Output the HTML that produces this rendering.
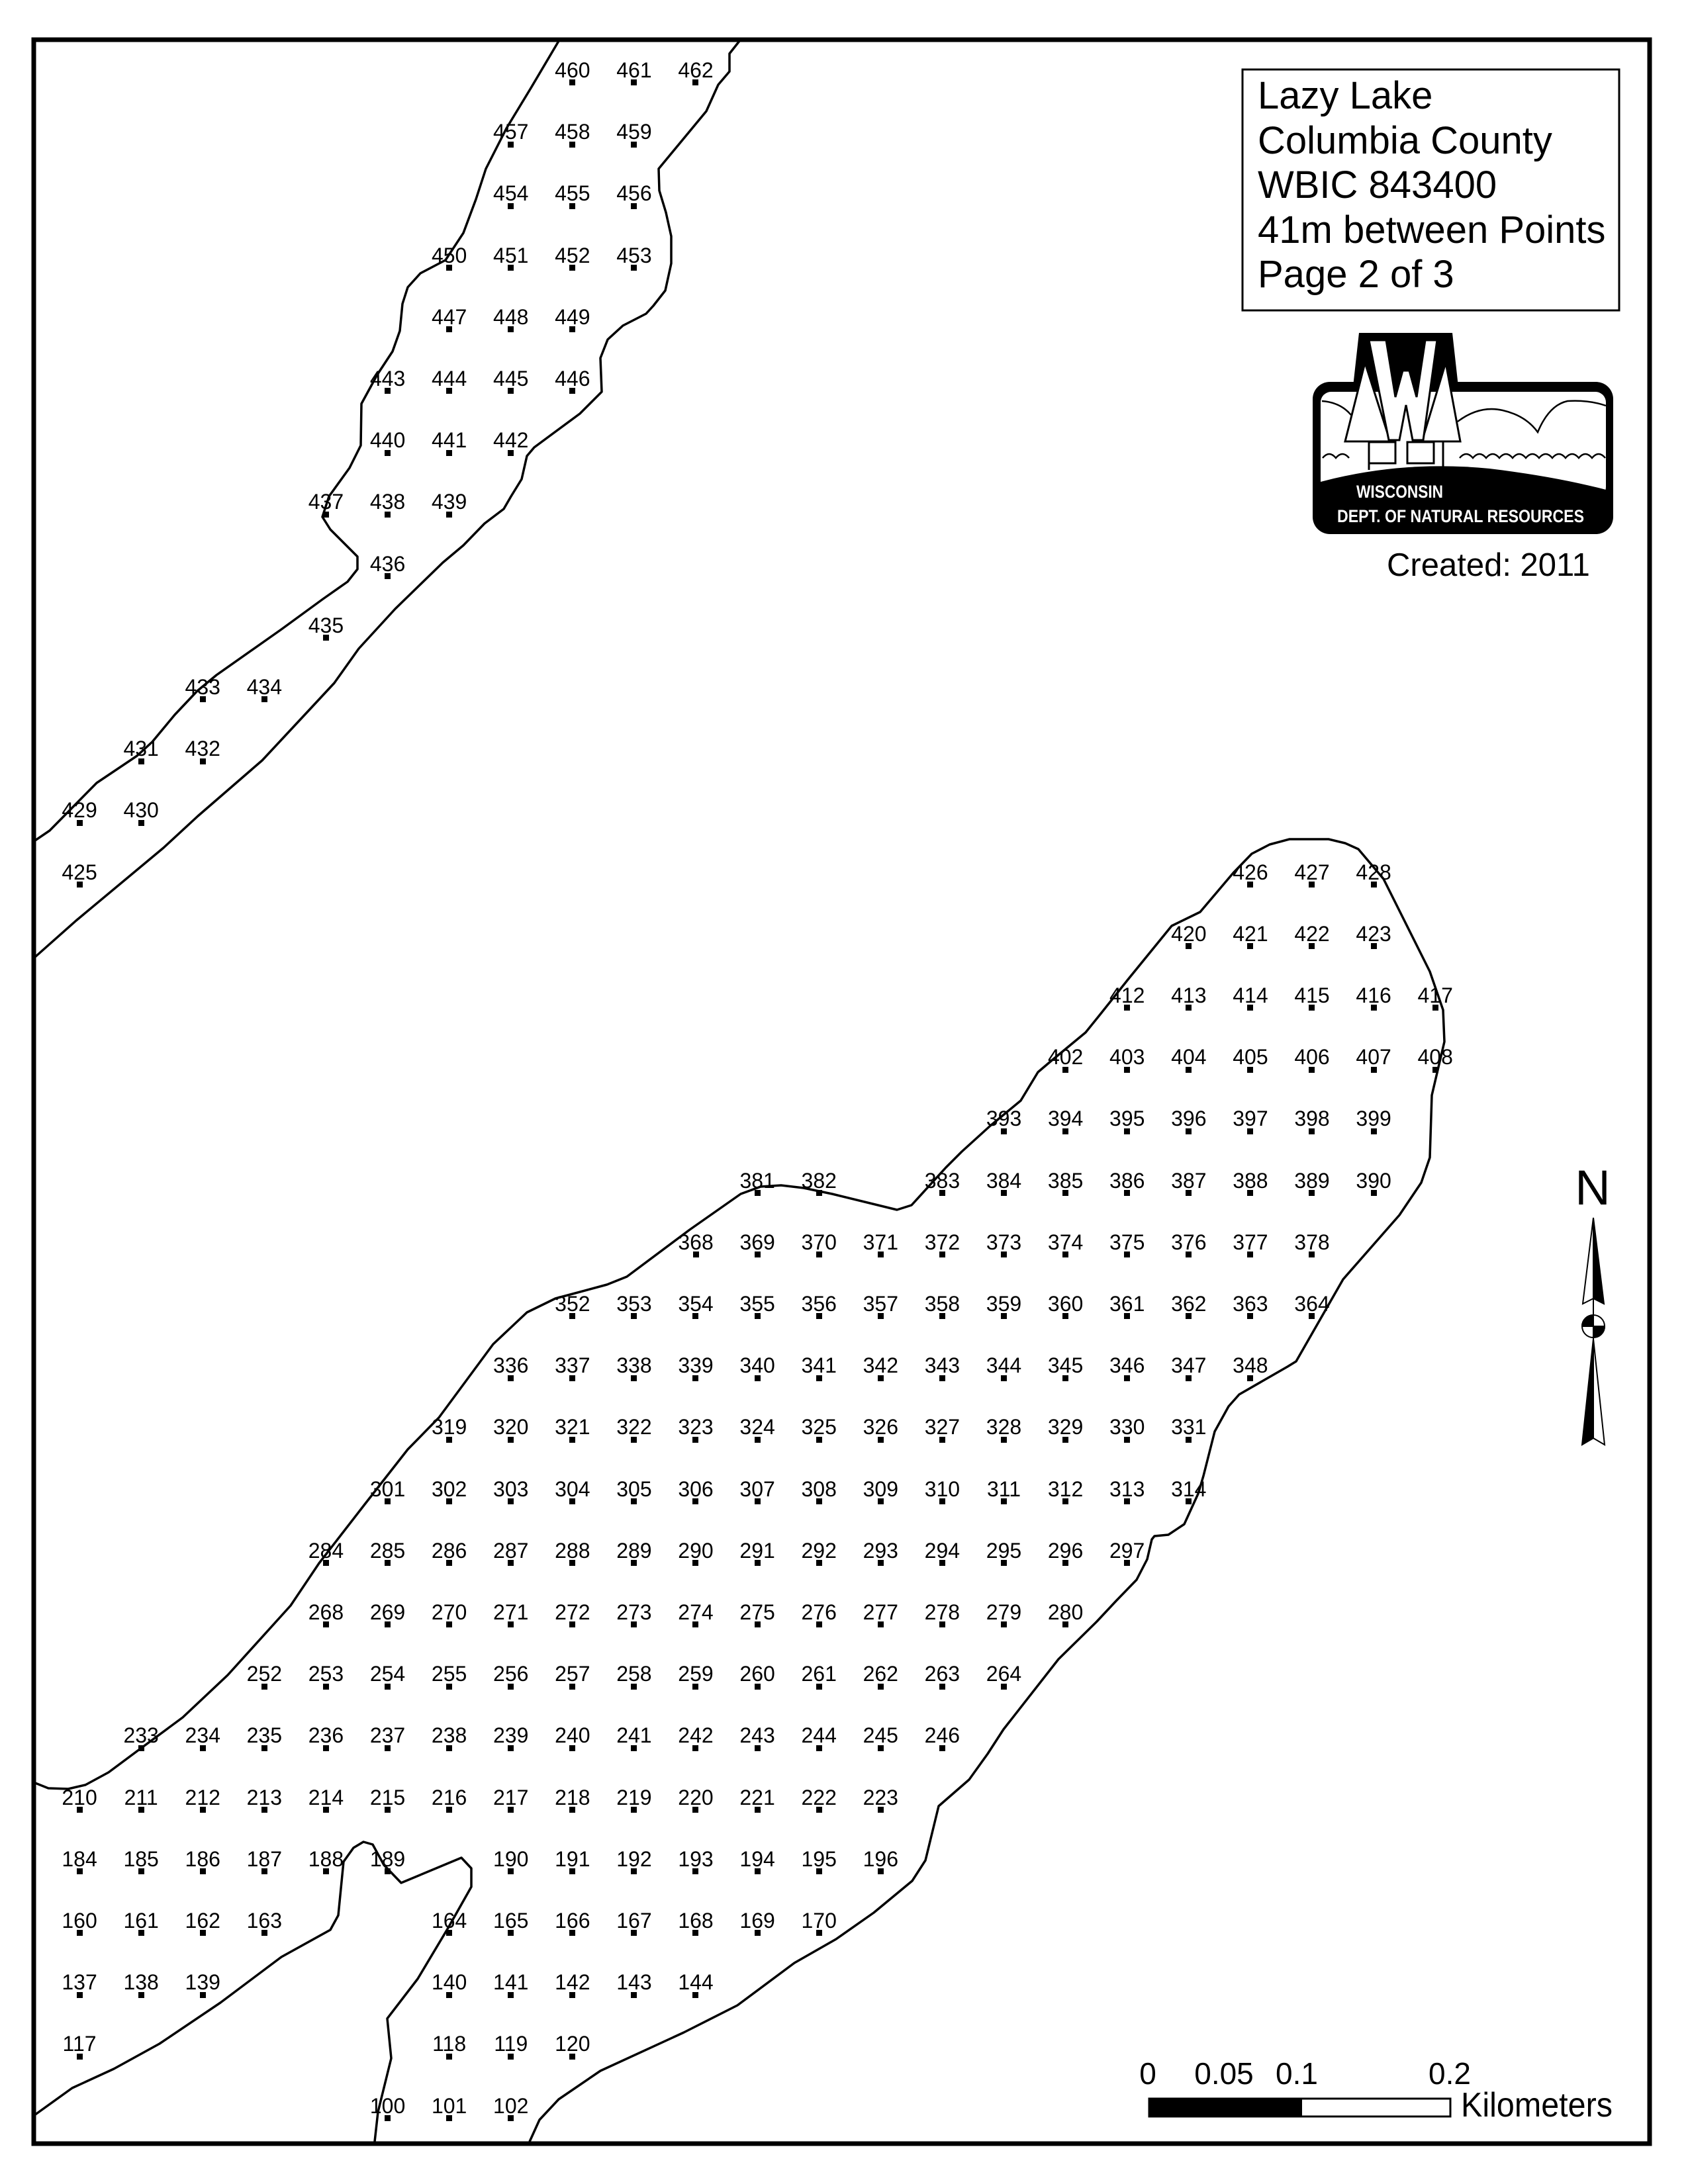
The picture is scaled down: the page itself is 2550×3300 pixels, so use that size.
<!DOCTYPE html>
<html><head><meta charset="utf-8">
<style>
html,body{margin:0;padding:0;background:#fff}
body{width:2550px;height:3300px;position:relative;overflow:hidden;font-family:"Liberation Sans",Arial,sans-serif}
svg{position:absolute;left:0;top:0}
.r{position:absolute;display:flex;font:32px/32px "Liberation Sans",Arial,sans-serif;height:40px;color:#000}
.r i{font-style:normal;width:93.1px;flex:none;text-align:center;position:relative}
.r i::after{content:"";position:absolute;left:42px;top:30.6px;width:9px;height:9px;background:#000}
.t{position:absolute;white-space:nowrap;color:#000}
</style></head><body>
<svg width="2550" height="3300" viewBox="0 0 2550 3300">
<g fill="none" stroke="#000" stroke-width="3.5" stroke-linejoin="round">
<!-- north strip left shore -->
<polyline points="844,62 802,133 765,194 734,255 719,301 700,352 673,393 635,413 616,434 608,459 604,500 593,531 570,566 546,610 545,673 528,707 497,750 487,781 499,800 540,841 540,860 525,879 488,905 425,951 327,1020 298,1044 264,1080 230,1121 207,1142 146,1183 75,1255 53,1270"/>
<!-- north strip right shore -->
<polyline points="1117,62 1102,81 1102,108 1085,128 1067,168 995,255 996,288 1006,321 1014,357 1014,398 1005,439 987,462 976,474 941,492 918,513 907,541 909,592 876,625 834,656 807,676 796,689 788,724 772,750 761,769 732,791 700,824 669,850 597,920 542,980 505,1032 465,1075 396,1149 299,1233 247,1281 115,1391 53,1446"/>
<!-- south lake main shore -->
<polyline points="53,2694 73,2702 103,2703 129,2697 164,2678 207,2646 276,2595 344,2531 439,2426 482,2362 551,2273 616,2190 663,2142 745,2031 796,1983 839,1962 917,1941 947,1929 1042,1858 1119,1804 1149,1793 1180,1791 1214,1795 1257,1804 1355,1828 1377,1821 1429,1764 1453,1740 1496,1701 1542,1663 1568,1620 1588,1603 1640,1560 1661,1534 1704,1480 1770,1399 1813,1378 1863,1319 1891,1290 1918,1276 1948,1268 2007,1268 2032,1274 2052,1283 2090,1328 2120,1388 2160,1468 2180,1526 2182,1574 2163,1655 2160,1749 2147,1787 2114,1836 2029,1933 1958,2057 1945,2065 1872,2107 1856,2125 1835,2163 1818,2230 1810,2257 1789,2303 1765,2319 1744,2321 1740,2326 1733,2356 1717,2387 1686,2419 1657,2450 1599,2507 1516,2613 1492,2650 1464,2689 1418,2729 1398,2811 1378,2842 1320,2890 1263,2930 1200,2966 1114,3030 1033,3071 907,3129 844,3172 815,3203 800,3236"/>
<!-- west shore with peninsula -->
<polyline points="52,3196 109,3155 172,3126 241,3088 333,3026 425,2957 499,2916 511,2894 519,2813 534,2792 549,2783 563,2787 580,2818 606,2845 697,2807 712,2823 712,2851 677,2913 631,2990 585,3050 591,3110 571,3191 566,3236"/>
</g>
<!-- frame -->
<rect x="51" y="60" width="2441" height="3179" fill="none" stroke="#000" stroke-width="7"/>
<!-- title box -->
<rect x="1877" y="105" width="569" height="364" fill="none" stroke="#000" stroke-width="3"/>
<!-- logo -->
<g>
<rect x="1983" y="577" width="454" height="230" rx="26" fill="#000"/>
<polygon points="2040,620 2053,503 2194,503 2207,620" fill="#000"/>
<rect x="1995" y="592" width="431" height="160" rx="16" fill="#fff"/>
<path d="M1995,728 Q2120,695 2250,708 Q2350,720 2426,740 V800 H1995Z" fill="#000"/>
<g fill="none" stroke="#000" stroke-width="2.5">
<path d="M1997,606 Q2025,608 2041,627"/>
<path d="M2202,637 Q2235,612 2270,620 Q2305,628 2323,653 Q2340,612 2368,606 Q2400,604 2426,613"/>
<path d="M1998,692 Q2008,680 2018,692 Q2028,680 2038,692 M2205,692 Q2215,680 2225,692 Q2235,680 2245,692 Q2255,680 2265,692 Q2275,680 2285,692 Q2295,680 2305,692 Q2315,680 2325,692 Q2335,680 2345,692 Q2355,680 2365,692 Q2375,680 2385,692 Q2395,680 2405,692 Q2415,680 2425,692"/>
</g>
<polygon points="2062,548 2032,667 2100,667" fill="#fff" stroke="#000" stroke-width="3"/>
<polygon points="2184,548 2206,667 2148,667" fill="#fff" stroke="#000" stroke-width="3"/>
<g fill="none" stroke="#000" stroke-width="3">
<rect x="2068" y="668" width="40" height="32"/>
<rect x="2126" y="668" width="40" height="32"/>
<line x1="2068" y1="668" x2="2068" y2="710"/><line x1="2180" y1="668" x2="2180" y2="710"/>
</g>
<polygon points="2068,514 2094,514 2108,600 2119,560 2129,560 2140,600 2153,514 2171,514 2150,665 2134,665 2124,612 2114,665 2098,665" fill="#fff" stroke="#000" stroke-width="3"/>
<text x="2049" y="752" font-family="Liberation Sans, Arial, sans-serif" font-weight="bold" font-size="27" fill="#fff" textLength="131" lengthAdjust="spacingAndGlyphs">WISCONSIN</text>
<text x="2020" y="789" font-family="Liberation Sans, Arial, sans-serif" font-weight="bold" font-size="27" fill="#fff" textLength="373" lengthAdjust="spacingAndGlyphs">DEPT. OF NATURAL RESOURCES</text>
</g>
<!-- north arrow -->
<g stroke="#000" stroke-width="2">
<polygon points="2407,1840 2391,1970 2407,1962" fill="#fff"/>
<polygon points="2407,1840 2423,1970 2407,1962" fill="#000"/>
<line x1="2407" y1="1962" x2="2407" y2="2023"/>
<circle cx="2407" cy="2004" r="17" fill="#fff"/>
<path d="M2407,1987 A17,17 0 0,0 2390,2004 H2407Z" fill="#000"/>
<path d="M2407,2021 A17,17 0 0,0 2424,2004 H2407Z" fill="#000"/>
<polygon points="2407,2023 2390,2183 2407,2173" fill="#000"/>
<polygon points="2407,2023 2424,2183 2407,2173" fill="#fff"/>
</g>
<text x="2406" y="1820" text-anchor="middle" font-family="Liberation Sans, Arial, sans-serif" font-size="74">N</text>
<!-- scale bar -->
<rect x="1736" y="3171" width="455" height="27" fill="#fff" stroke="#000" stroke-width="3"/>
<rect x="1736" y="3171" width="231" height="27" fill="#000"/>
<g font-family="Liberation Sans, Arial, sans-serif" font-size="46" text-anchor="middle">
<text x="1734" y="3149">0</text><text x="1849" y="3149">0.05</text><text x="1959" y="3149">0.1</text><text x="2190" y="3149">0.2</text>
</g>
<text x="2207" y="3198" font-family="Liberation Sans, Arial, sans-serif" font-size="52" textLength="229" lengthAdjust="spacingAndGlyphs">Kilometers</text>
</svg>
<div class="t" style="left:1900px;top:0;font-size:58px;line-height:67.5px;top:111px">Lazy Lake<br>Columbia County<br>WBIC 843400<br>41m between Points<br>Page 2 of 3</div>
<div class="t" style="left:2095px;top:826px;font-size:49px;line-height:56px">Created: 2011</div>

<div class="r" style="left:818.3px;top:89.9px"><i>460</i><i>461</i><i>462</i></div>
<div class="r" style="left:725.2px;top:183.1px"><i>457</i><i>458</i><i>459</i></div>
<div class="r" style="left:725.2px;top:276.3px"><i>454</i><i>455</i><i>456</i></div>
<div class="r" style="left:632.1px;top:369.5px"><i>450</i><i>451</i><i>452</i><i>453</i></div>
<div class="r" style="left:632.1px;top:462.7px"><i>447</i><i>448</i><i>449</i></div>
<div class="r" style="left:539px;top:555.9px"><i>443</i><i>444</i><i>445</i><i>446</i></div>
<div class="r" style="left:539px;top:649.1px"><i>440</i><i>441</i><i>442</i></div>
<div class="r" style="left:445.9px;top:742.3px"><i>437</i><i>438</i><i>439</i></div>
<div class="r" style="left:539px;top:835.5px"><i>436</i></div>
<div class="r" style="left:445.9px;top:928.7px"><i>435</i></div>
<div class="r" style="left:259.7px;top:1021.9px"><i>433</i><i>434</i></div>
<div class="r" style="left:166.6px;top:1115.1px"><i>431</i><i>432</i></div>
<div class="r" style="left:73.5px;top:1208.3px"><i>429</i><i>430</i></div>
<div class="r" style="left:73.5px;top:1301.5px"><i>425</i></div>
<div class="r" style="left:1842.4px;top:1301.5px"><i>426</i><i>427</i><i>428</i></div>
<div class="r" style="left:1749.3px;top:1394.7px"><i>420</i><i>421</i><i>422</i><i>423</i></div>
<div class="r" style="left:1656.2px;top:1487.9px"><i>412</i><i>413</i><i>414</i><i>415</i><i>416</i><i>417</i></div>
<div class="r" style="left:1563.1px;top:1581.1px"><i>402</i><i>403</i><i>404</i><i>405</i><i>406</i><i>407</i><i>408</i></div>
<div class="r" style="left:1470px;top:1674.3px"><i>393</i><i>394</i><i>395</i><i>396</i><i>397</i><i>398</i><i>399</i></div>
<div class="r" style="left:1097.6px;top:1767.5px"><i>381</i><i>382</i></div>
<div class="r" style="left:1376.9px;top:1767.5px"><i>383</i><i>384</i><i>385</i><i>386</i><i>387</i><i>388</i><i>389</i><i>390</i></div>
<div class="r" style="left:1004.5px;top:1860.7px"><i>368</i><i>369</i><i>370</i><i>371</i><i>372</i><i>373</i><i>374</i><i>375</i><i>376</i><i>377</i><i>378</i></div>
<div class="r" style="left:818.3px;top:1953.9px"><i>352</i><i>353</i><i>354</i><i>355</i><i>356</i><i>357</i><i>358</i><i>359</i><i>360</i><i>361</i><i>362</i><i>363</i><i>364</i></div>
<div class="r" style="left:725.2px;top:2047.1px"><i>336</i><i>337</i><i>338</i><i>339</i><i>340</i><i>341</i><i>342</i><i>343</i><i>344</i><i>345</i><i>346</i><i>347</i><i>348</i></div>
<div class="r" style="left:632.1px;top:2140.3px"><i>319</i><i>320</i><i>321</i><i>322</i><i>323</i><i>324</i><i>325</i><i>326</i><i>327</i><i>328</i><i>329</i><i>330</i><i>331</i></div>
<div class="r" style="left:539px;top:2233.5px"><i>301</i><i>302</i><i>303</i><i>304</i><i>305</i><i>306</i><i>307</i><i>308</i><i>309</i><i>310</i><i>311</i><i>312</i><i>313</i><i>314</i></div>
<div class="r" style="left:445.9px;top:2326.7px"><i>284</i><i>285</i><i>286</i><i>287</i><i>288</i><i>289</i><i>290</i><i>291</i><i>292</i><i>293</i><i>294</i><i>295</i><i>296</i><i>297</i></div>
<div class="r" style="left:445.9px;top:2419.9px"><i>268</i><i>269</i><i>270</i><i>271</i><i>272</i><i>273</i><i>274</i><i>275</i><i>276</i><i>277</i><i>278</i><i>279</i><i>280</i></div>
<div class="r" style="left:352.8px;top:2513.1px"><i>252</i><i>253</i><i>254</i><i>255</i><i>256</i><i>257</i><i>258</i><i>259</i><i>260</i><i>261</i><i>262</i><i>263</i><i>264</i></div>
<div class="r" style="left:166.6px;top:2606.3px"><i>233</i><i>234</i><i>235</i><i>236</i><i>237</i><i>238</i><i>239</i><i>240</i><i>241</i><i>242</i><i>243</i><i>244</i><i>245</i><i>246</i></div>
<div class="r" style="left:73.5px;top:2699.5px"><i>210</i><i>211</i><i>212</i><i>213</i><i>214</i><i>215</i><i>216</i><i>217</i><i>218</i><i>219</i><i>220</i><i>221</i><i>222</i><i>223</i></div>
<div class="r" style="left:73.5px;top:2792.7px"><i>184</i><i>185</i><i>186</i><i>187</i><i>188</i><i>189</i></div>
<div class="r" style="left:725.2px;top:2792.7px"><i>190</i><i>191</i><i>192</i><i>193</i><i>194</i><i>195</i><i>196</i></div>
<div class="r" style="left:73.5px;top:2885.9px"><i>160</i><i>161</i><i>162</i><i>163</i></div>
<div class="r" style="left:632.1px;top:2885.9px"><i>164</i><i>165</i><i>166</i><i>167</i><i>168</i><i>169</i><i>170</i></div>
<div class="r" style="left:73.5px;top:2979.1px"><i>137</i><i>138</i><i>139</i></div>
<div class="r" style="left:632.1px;top:2979.1px"><i>140</i><i>141</i><i>142</i><i>143</i><i>144</i></div>
<div class="r" style="left:73.5px;top:3072.3px"><i>117</i></div>
<div class="r" style="left:632.1px;top:3072.3px"><i>118</i><i>119</i><i>120</i></div>
<div class="r" style="left:539px;top:3165.5px"><i>100</i><i>101</i><i>102</i></div>
</body></html>
